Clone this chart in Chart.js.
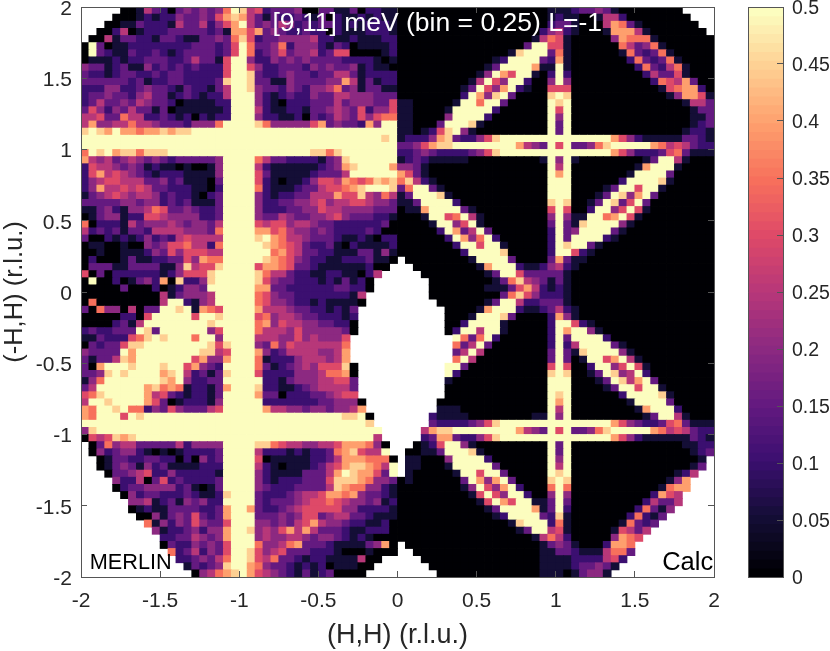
<!DOCTYPE html>
<html>
<head>
<meta charset="utf-8">
<style>
  html, body { margin: 0; padding: 0; background: #fff; }
  canvas { position: absolute; top: 0; }
</style>
<script src="https://cdn.jsdelivr.net/npm/chart.js@4/dist/chart.umd.js"></script>
</head>
<body>
<canvas id="mapChart" width="830" height="651" style="left:0"></canvas>
<canvas id="barChart" width="90" height="651" style="left:740px"></canvas>
<script>
// intensity, one char per cell, top row first (. = no data)
const intensityRows = [
  ".....00153 203434347a 9562333400 3311302211 0000000000 0000000001 1123343100 000000....",
  "....000121 2243343689 8531322321 3021121211 0000000000 0000000001 2110015520 0000000...",
  "...0011322 2153352468 a534354232 3321212221 0000000000 0000000002 3310005873 10000000..",
  "..00250122 2333332318 8683432232 2021112221 0000000000 0000000024 5210001888 510000000.",
  ".005133221 3321133437 9623344445 2211211122 0000000000 0000000157 6100000487 7710000000",
  "0a30112222 2222333236 a733472444 2132011112 0000000000 0000003aa6 6100000075 3471000000",
  "0a32113223 2123333236 a723463445 2366000012 0000000000 000019aaa3 7100000017 3237100000",
  "0111212233 322353316a a422434343 3332222101 0000000000 0012aaaa32 8100000002 7323710000",
  "4331231142 323232226a a642233324 3433412110 0000000000 013aaaa811 a100000000 2732571000",
  "3221233223 233222226a a932234332 3355312222 0000000000 14a86aa102 a200000000 0253361000",
  "3333332312 233222239a a933114333 3448513122 0000000001 5a64aa2004 a400000000 0027658300",
  "2224422343 321322135a a943324324 4573413311 0000000013 a648a21006 6600000000 0001678820",
  "2334332453 312321225a aa42123224 3355444333 000000002a 849a300009 a900000000 0000148861",
  "2353343543 320111122a aa42102223 3353444336 11000001aa 7aa300000a 9a00000000 0000001553",
  "3642435331 301111112a aa52112213 3454362446 1100001aaa aa2000000a 6a00000000 0000000133",
  "5563375522 321202122a aa42211203 2354364677 1100004aaa a20000000a 4a00000000 0000000113",
  "5844557554 33324447aa aa97444446 83433284aa 110003aaa9 100000000a 3a00000000 0000000123",
  "9a98a88788 9899aaaaaa aaaaaaaaaa aaaaaaaaaa 1101269a41 000000000a 3a00000000 0000001221",
  "aaaaaaaaaa aaaaaaaaaa aaaaaaaaaa aaaaaaaa9a 1222489322 469aaaaaaa aaaaaaa864 2111113321",
  "aaaaaaaaaa aaaaaaaaaa aaaaaaaaaa aaaaaaaaaa 3346899aaa aaaaa8543a 6a33479aaa aa87565322",
  "7a9a899799 9aaaaaaaaa aaaaaaaaa9 979aaaaaaa 2234322223 469aaaaaaa aaaaaaa864 2223673111",
  "8545345434 32333334aa aa75332222 1349aaaaaa 1232111110 000000001a 4a10000000 013aa51000",
  "2655434312 11010014aa aa52111111 23489aaaa8 4431000000 000000000a 5a00000000 18aaa10000",
  "2685654321 22211114aa aa63111112 3335aaaaaa 8631000000 000000000a 8a00000001 aaaa300000",
  "2456655533 42311103aa aa62101124 6658767989 7952100000 000000000a aa0000002a aaa9100000",
  "2485565653 32221102aa aa72111233 566789aaa9 37aa310000 000000000a aa000013aa 6aa1000000",
  "1345654554 23221023aa aa42122335 5586695475 13aaa91000 000000000a aa00013a94 8a30000000",
  "3333344344 23231113aa aa42233445 6455665443 113aaaa200 0000000009 a90013a936 a300000000",
  "1134214457 63343223aa aa42223344 6554444333 0118aaaa31 0000000006 a6002aa46a 6100000000",
  "0134412266 54444223aa aa43354334 4564333221 0001aa67a5 1000000004 a411aa78a6 1000000000",
  "7022215344 45434435aa aa65664554 3322222230 00001aa46a 1000000003 a319aaaa41 0000000000",
  "5232313325 55544437aa aa88675443 4322223200 000002a835 a300000002 a34aaaa310 0000000000",
  "3002121242 32565555aa aa9a875543 3321121022 0000002a84 7a20000002 a3aaaa2100 0000000000",
  "0110010043 46675527aa aaa9876532 2310211112 00000002aa 6aa1000002 a9aa310000 0000000000",
  "0010011124 36466655aa aaaa786533 2211133141 000000002a aaa9000002 aa62100000 0000000000",
  "0200013112 23364877aa aaa9876432 2112223110 .000000001 aaaa300003 8311000000 0000000000",
  "0333113333 11495669aa aa68876332 111111200. ..00000000 18aaa21124 5210000000 0000000000",
  "6030222222 1246669aaa aa97553221 12211025.. ...0000000 013aa63333 3100000000 0000000000",
  "0a00201342 8092249aaa aa96433222 1213120... ....000000 0013795431 3100000000 0000000000",
  "0000030002 012443aaaa aa88332222 2233220... ....000000 0111368521 2100000000 0000000000",
  "0000000000 5134445aaa aa76433222 222215.... ....000000 0003796422 2100000000 0000000000",
  "0700000000 5aa2145aaa aa76443221 211110.... .....00000 013aa52233 3100000000 0000000000",
  "3074405033 aa9a1876aa aa85554332 21213..... ......0000 18aaa21123 5210000000 0000000000",
  "000002206a aaaa6aa9aa aa67455433 22212..... ......0001 aaa9300002 8410000000 0000000000",
  "00002315aa aaaaaa9aaa aa78465544 33220..... ......002a aaa1000002 aa62100000 0000000000",
  "2322333a93 aaaaaa46aa aa75554644 44430..... ......02aa 5aa1000002 a8aa410000 0000000000",
  "113222679a 9aaa7aa4aa aa55544645 4446...... .......a73 7a20000002 a3aaaa2000 0000000000",
  "03233699aa aaaaaa969a aa43746555 5557...... .......735 a300000002 a25aaaa310 0000000000",
  "43333a8aaa aaaaa9956a aa84235555 4458...... .......35a 5000000003 a319aaaa41 0000000000",
  "3133598aaa aaaa68448a aa71222455 5458...... .......7a5 0000000003 a301aa68a5 1000000000",
  "308aaa9aaa 9aa68432aa aa73123454 66690..... ......aa30 0000000006 a6002aa46a 6100000000",
  "3349a9aaaa 89a523139a aa62222444 57780..... ......a200 0000000009 a90013a945 a200000000",
  "147aaaaaaa 98a42233aa aaa2213444 55663..... ......1000 000000000a aa00013a95 8a30000000",
  "35aaaaaa89 787122138a aa92211234 55553..... ......0000 000000000a aa000013aa 6aa1000000",
  "679aaaaa85 63212213aa aa83302223 34566..... ......0000 000000000a 9a0000002a aaa9100000",
  "5aa9aaaa86 30122214aa aaa2222222 334440.... .....00000 000000000a 8a00000001 aaaa300000",
  "87aa9a7724 36433356aa aaa8554434 434458.... .....11100 000000000a 5a00000000 18aaa20000",
  "87aaa6a9aa aaaaaaaaaa aaaaaaaaaa aaa99a0... ....211110 000000011a 4a00000000 013aa51000",
  "aaaaaaaaaa aaaaaaaaaa aaaaaaaaaa aaaaaa9... ....322223 469aaaaaaa aaaaaaa864 3223673111",
  "49aaaaaaaa aaaaaaaaaa aaaaaaaaaa aaaaaaaa.. ...5899aaa aaaaa8543a 6a33479aaa aa87565322",
  "0656989aaa aaaaaaaaaa aaaaaaaaaa aaaaaaa5.. ...2388322 469aaaaaaa aaaaaaa864 2111111321",
  ".037455333 33524444aa aa99765544 556888740. ..0126aa41 000000000a 3a00000000 0000001122",
  ".042344210 10122223aa aa52221212 23789655a. .00113aaa9 100000000a 3a00000000 0000000123",
  "..01332233 22020423aa aa60111112 2358887770 .110004aaa a20000000a 4a00000000 000000001.",
  "..01343142 31111222aa aa52101112 356899875a .110001aaa aa3000000a 5a00000000 000000013.",
  "...0334562 24222221aa aa42111133 358a98863a .1000001aa 6aa300000a 9a00000000 00000125..",
  "....422503 62322223aa aa42122233 3699987443 010000003a 848a300009 a900000000 0000148...",
  "....023344 44231013aa aa43222333 3598774421 0000000014 a648a20007 a700000000 0001788...",
  ".....04233 222321129a aa32223455 6887843321 0000000001 6a64aa2004 a400000000 002865....",
  "......4451 23143422aa aa32333456 6765443412 0000000000 16a86aa113 a300000000 025335....",
  "......0121 133332238a a832234566 6664422221 0000000000 013aaaa813 a200000000 27314.....",
  ".......004 134363238a aa33343466 3455332111 0000000000 0012aaaa32 9100000002 7213......",
  "........71 424364336a aa44343568 5443221120 0000000000 000019aaa2 7100000017 323.......",
  ".........4 122342448a a945468585 3332112220 0000000000 0000013aa5 6100000165 35........",
  ".......... 223354348a aa45445543 4432121000 0000000000 0000000157 5200000487 6.........",
  ".......... 032243436a aa74457833 3211113480 .000000000 0000000013 4310002887 ..........",
  ".......... .72352436a a964563332 2210001000 ..00000000 0000000011 3321115773 ..........",
  ".......... ..2234357a a965733212 21111500.. ...0000000 0000000011 112222562. ..........",
  ".......... ...132349a a874332121 2011100... ....000000 0000000011 11233431.. ..........",
  ".......... ....045789 a865432131 230000.... .....00000 0000000011 1013441... .........."
];
const levelChars = "0123456789a";
const levelValues = [0, 0.05, 0.1, 0.15, 0.2, 0.25, 0.3, 0.35, 0.4, 0.45, 0.5];

const axisTicks = [-2, -1.5, -1, -0.5, 0, 0.5, 1, 1.5, 2];
const barTicks = [0, 0.05, 0.1, 0.15, 0.2, 0.25, 0.3, 0.35, 0.4, 0.45, 0.5];
const binWidth = 0.05;
const barSteps = 64;

const magma = ['#000004', '#140e36', '#3b0f70', '#641a80', '#8c2981', '#b73779',
               '#de4968', '#f7705c', '#fe9f6d', '#fecf92', '#fcfdbf'];

const fontName = '"Liberation Sans", Arial, sans-serif';
const lineColor = '#555';

function colorFor(value) {
    const pos = Math.min(value / 0.5, 1) * (magma.length - 1);
    const i = Math.min(Math.floor(pos), magma.length - 2);
    const t = pos - i;
    const a = parseInt(magma[i].slice(1), 16), b = parseInt(magma[i + 1].slice(1), 16);
    const mix = shift => Math.round(((a >> shift) & 255) * (1 - t) + ((b >> shift) & 255) * t);
    return `rgb(${mix(16)},${mix(8)},${mix(0)})`;
}

// one floating bar per cell
const cells = [];
const cellColors = [];
intensityRows.forEach((row, r) => {
    row.replace(/ /g, '').split('').forEach((ch, c) => {
        const level = levelChars.indexOf(ch);
        if (level < 0) return;
        const top = 2 - r * binWidth;
        cells.push({ x: -2 + (c + 0.5) * binWidth, y: [top - binWidth, top] });
        cellColors.push(colorFor(levelValues[level]));
    });
});

function fixWidth(size) {
    return scale => { scale.width = size; scale.paddingTop = 0; scale.paddingBottom = 0; };
}

function fixHeight(size) {
    return scale => { scale.height = size; scale.paddingLeft = 0; scale.paddingRight = 0; };
}

function tickAxis(position, options) {
    return Object.assign({
        position: position,
        type: 'linear',
        min: -2,
        max: 2,
        offset: false,
        afterBuildTicks: scale => { scale.ticks = axisTicks.map(v => ({ value: v })); },
        grid: { offset: false, drawOnChartArea: false, tickLength: -6, color: lineColor, z: 1 },
        border: { color: lineColor, z: 1 },
        ticks: { display: false }
    }, options);
}

// text that sits inside the axes
const plotLabels = [
    { text: '[9,11] meV (bin = 0.25) L=-1', x: -0.79, y: 1.88, size: 26.5, color: '#fff', align: 'left' },
    { text: 'MERLIN', x: -1.945, y: -1.905, size: 21.7, color: '#000', align: 'left' },
    { text: 'Calc', x: 1.995, y: -1.905, size: 25.5, color: '#000', align: 'right' }
];

const labelPlugin = {
    id: 'plotLabels',
    afterDraw(chart) {
        const ctx = chart.ctx;
        ctx.save();
        plotLabels.forEach(l => {
            ctx.font = `${l.size}px ${fontName}`;
            ctx.fillStyle = l.color;
            ctx.textAlign = l.align;
            ctx.textBaseline = 'middle';
            ctx.fillText(l.text, chart.scales.x.getPixelForValue(l.x), chart.scales.y.getPixelForValue(l.y));
        });
        ctx.restore();
    }
};

new Chart(document.getElementById('mapChart'), {
    type: 'bar',
    data: {
        datasets: [{
            yAxisID: 'yCells',
            data: cells,
            backgroundColor: cellColors,
            borderWidth: 0,
            inflateAmount: 0.4,
            barPercentage: 1,
            categoryPercentage: 1
        }]
    },
    options: {
        responsive: false,
        animation: false,
        events: [],
        layout: { padding: { left: 0, right: 116, top: 7, bottom: 0 } },
        plugins: { legend: { display: false }, tooltip: { enabled: false } },
        scales: {
            yCells: { type: 'linear', display: false, min: -2, max: 2 },
            x: tickAxis('bottom', {
                afterFit: fixHeight(74),
                ticks: { color: '#262626', font: { size: 21, family: fontName }, padding: 18, maxRotation: 0, autoSkip: false, callback: v => String(v) },
                title: { display: true, text: '(H,H) (r.l.u.)', color: '#262626', font: { size: 27, family: fontName }, padding: { top: 0, bottom: -1 } }
            }),
            y: tickAxis('left', {
                afterFit: fixWidth(81),
                ticks: { color: '#262626', font: { size: 21, family: fontName }, padding: 15, labelOffset: 2, autoSkip: false, callback: v => String(v) },
                title: { display: true, text: '(-H,H) (r.l.u.)', color: '#262626', font: { size: 25.5, family: fontName }, padding: { top: 0, bottom: 0 } }
            }),
            xTop: tickAxis('top', { afterFit: fixHeight(0) }),
            yRight: tickAxis('right', { afterFit: fixWidth(0) })
        }
    },
    plugins: [labelPlugin]
});

// colour bar
const barCells = [];
const barColors = [];
for (let i = 0; i < barSteps; i++) {
    barCells.push({ x: 0.5, y: [i * 0.5 / barSteps, (i + 1) * 0.5 / barSteps] });
    barColors.push(colorFor(i * 0.5 / (barSteps - 1)));
}

function frameAxis(position, min, max, afterFit) {
    return {
        position: position, type: 'linear', min: min, max: max, offset: false, afterFit: afterFit,
        grid: { offset: false, drawOnChartArea: false, drawTicks: false, z: 1 },
        border: { color: lineColor, z: 1 },
        ticks: { display: false }
    };
}

new Chart(document.getElementById('barChart'), {
    type: 'bar',
    data: {
        datasets: [{
            data: barCells,
            backgroundColor: barColors,
            borderWidth: 0,
            inflateAmount: 0.4,
            barPercentage: 1,
            categoryPercentage: 1
        }]
    },
    options: {
        responsive: false,
        animation: false,
        events: [],
        layout: { padding: { left: 8, right: 0, top: 7, bottom: 0 } },
        plugins: { legend: { display: false }, tooltip: { enabled: false } },
        scales: {
            x: frameAxis('bottom', 0, 1, fixHeight(74)),
            xTop: frameAxis('top', 0, 1, fixHeight(0)),
            yLeft: frameAxis('left', 0, 0.5, fixWidth(0)),
            y: {
                position: 'right', type: 'linear', min: 0, max: 0.5,
                afterFit: fixWidth(47),
                afterBuildTicks: scale => { scale.ticks = barTicks.map(v => ({ value: v })); },
                grid: { drawOnChartArea: false, tickLength: -6, color: lineColor, z: 1 },
                border: { color: lineColor, z: 1 },
                ticks: { color: '#262626', font: { size: 19.5, family: fontName }, padding: 15, labelOffset: 2, autoSkip: false, callback: v => String(v) }
            }
        }
    }
});
</script>
</body>
</html>
